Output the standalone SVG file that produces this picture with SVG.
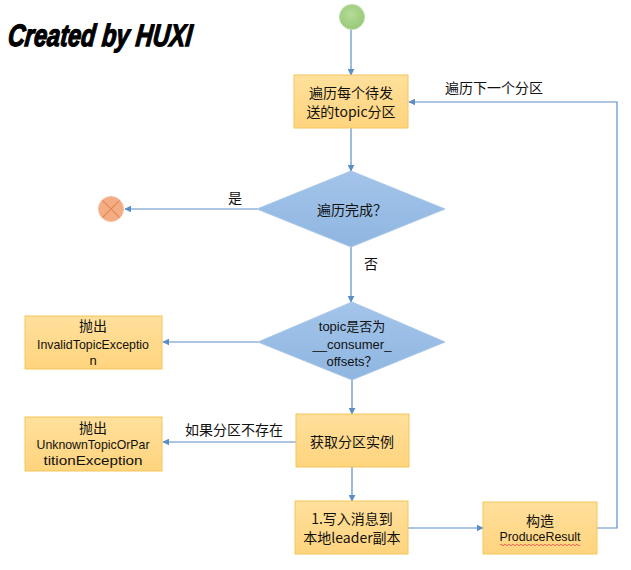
<svg xmlns="http://www.w3.org/2000/svg" width="631" height="570" viewBox="0 0 631 570">
<style>
.box{fill:url(#gBox);stroke:#f4c55a;stroke-width:1}
.dia{fill:url(#gDia);stroke:#a9c7ea;stroke-width:1}
.t{font-family:"Noto Sans CJK SC","Liberation Sans",sans-serif;font-size:14px;fill:#111;text-anchor:middle;dominant-baseline:central}
.l{font-family:"Liberation Sans","Noto Sans CJK SC",sans-serif;font-size:13px;fill:#111;text-anchor:middle;dominant-baseline:central}
.c{fill:none;stroke:#5b8ec6;stroke-width:1.2}
</style>
<defs>
<linearGradient id="gBox" x1="0" y1="0" x2="0" y2="1"><stop offset="0" stop-color="#ffe09c"/><stop offset="1" stop-color="#ffd47e"/></linearGradient>
<linearGradient id="gDia" x1="0" y1="0" x2="0" y2="1"><stop offset="0" stop-color="#a3c4ea"/><stop offset="1" stop-color="#8fb6e0"/></linearGradient>
<radialGradient id="gStart" cx="0.45" cy="0.4" r="0.6"><stop offset="0" stop-color="#b5dc98"/><stop offset="1" stop-color="#98c979"/></radialGradient>
<marker id="arr" viewBox="0 0 10 10" refX="9" refY="5" markerWidth="7" markerHeight="7" orient="auto" markerUnits="userSpaceOnUse"><path d="M0,0 L10,5 L0,10 z" fill="#5b8ec6"/></marker>
</defs>
<rect width="631" height="570" fill="#fff"/>
<text x="8" y="46" font-family="Liberation Sans, sans-serif" font-size="31" font-weight="bold" font-style="italic" textLength="184" lengthAdjust="spacingAndGlyphs" fill="#000" stroke="#000" stroke-width="1.3" transform="skewX(-6) translate(4,0)">Created by HUXI</text>

<g id="connectors">
<line class="c" x1="351" y1="30" x2="351" y2="75" marker-end="url(#arr)"/>
<line class="c" x1="351" y1="128" x2="351" y2="171" marker-end="url(#arr)"/>
<line class="c" x1="257" y1="209" x2="125" y2="209" marker-end="url(#arr)"/>
<line class="c" x1="351" y1="247" x2="351" y2="302" marker-end="url(#arr)"/>
<line class="c" x1="258" y1="342" x2="163" y2="342" marker-end="url(#arr)"/>
<line class="c" x1="352" y1="380" x2="352" y2="414" marker-end="url(#arr)"/>
<line class="c" x1="296" y1="442" x2="163" y2="442" marker-end="url(#arr)"/>
<line class="c" x1="352" y1="467" x2="352" y2="501" marker-end="url(#arr)"/>
<line class="c" x1="408" y1="528" x2="483" y2="528" marker-end="url(#arr)"/>
<polyline class="c" points="597,528 617,528 617,102 409,102" marker-end="url(#arr)"/>
<text class="t" x="494" y="87">遍历下一个分区</text>
<text class="t" x="235" y="197">是</text>
<text class="t" x="371" y="263">否</text>
<text class="t" x="234" y="429">如果分区不存在</text>
</g>

<g id="start"><circle cx="352" cy="17" r="12.5" fill="url(#gStart)" stroke="#b9dca0" stroke-width="1"/></g>

<g id="end">
<circle cx="111" cy="209" r="12.5" fill="#f4ac82" stroke="#f6bf9c" stroke-width="1"/>
<path d="M102.5,200.5 L119.5,217.5 M119.5,200.5 L102.5,217.5" stroke="#e58a5e" stroke-width="1.2"/>
</g>

<g id="loopPartitions">
<rect class="box" x="294" y="75" width="114" height="53"/>
<text class="t" x="351" y="92">遍历每个待发</text>
<text class="t" x="351" y="111">送的topic分区</text>
</g>

<g id="doneCheck">
<polygon class="dia" points="351,171 445,209 351,247 257,209"/>
<text class="t" x="352" y="209">遍历完成？</text>
</g>

<g id="topicCheck">
<polygon class="dia" points="352,302 445,342 352,380 258,342"/>
<text class="l" x="352" y="326">topic是否为</text>
<text class="l" x="352" y="344">__consumer_</text>
<text class="l" x="352" y="361">offsets？</text>
</g>

<g id="invalidTopic">
<rect class="box" x="25" y="316" width="137" height="53"/>
<text class="t" x="93" y="325">抛出</text>
<text class="l" x="93" y="344" textLength="112" lengthAdjust="spacingAndGlyphs">InvalidTopicExceptio</text>
<text class="l" x="93" y="360">n</text>
</g>

<g id="getPartition">
<rect class="box" x="296" y="414" width="113" height="53"/>
<text class="t" x="352" y="441">获取分区实例</text>
</g>

<g id="unknownTopic">
<rect class="box" x="25" y="417" width="137" height="54"/>
<text class="t" x="93" y="427">抛出</text>
<text class="l" x="93" y="444" textLength="113" lengthAdjust="spacingAndGlyphs">UnknownTopicOrPar</text>
<text class="l" x="93" y="460" textLength="99" lengthAdjust="spacingAndGlyphs">titionException</text>
</g>

<g id="writeLeader">
<rect class="box" x="295" y="501" width="113" height="53"/>
<text class="t" x="352" y="518">1.写入消息到</text>
<text class="t" x="352" y="537">本地leader副本</text>
</g>

<g id="produceResult">
<rect class="box" x="483" y="502" width="114" height="52"/>
<text class="t" x="540" y="520">构造</text>
<text class="l" x="540" y="536" textLength="81" lengthAdjust="spacingAndGlyphs">ProduceResult</text>
<path d="M500,545 q1,-1.5 2,0 t2,0 t2,0 t2,0 t2,0 t2,0 t2,0 t2,0 t2,0 t2,0 t2,0 t2,0 t2,0 t2,0 t2,0 t2,0 t2,0 t2,0 t2,0 t2,0 t2,0 t2,0 t2,0 t2,0 t2,0 t2,0 t2,0 t2,0 t2,0 t2,0 t2,0 t2,0 t2,0 t2,0 t2,0 t2,0 t2,0 t2,0 t2,0 t2,0" fill="none" stroke="#e04848" stroke-width="0.8"/>
</g>
</svg>
